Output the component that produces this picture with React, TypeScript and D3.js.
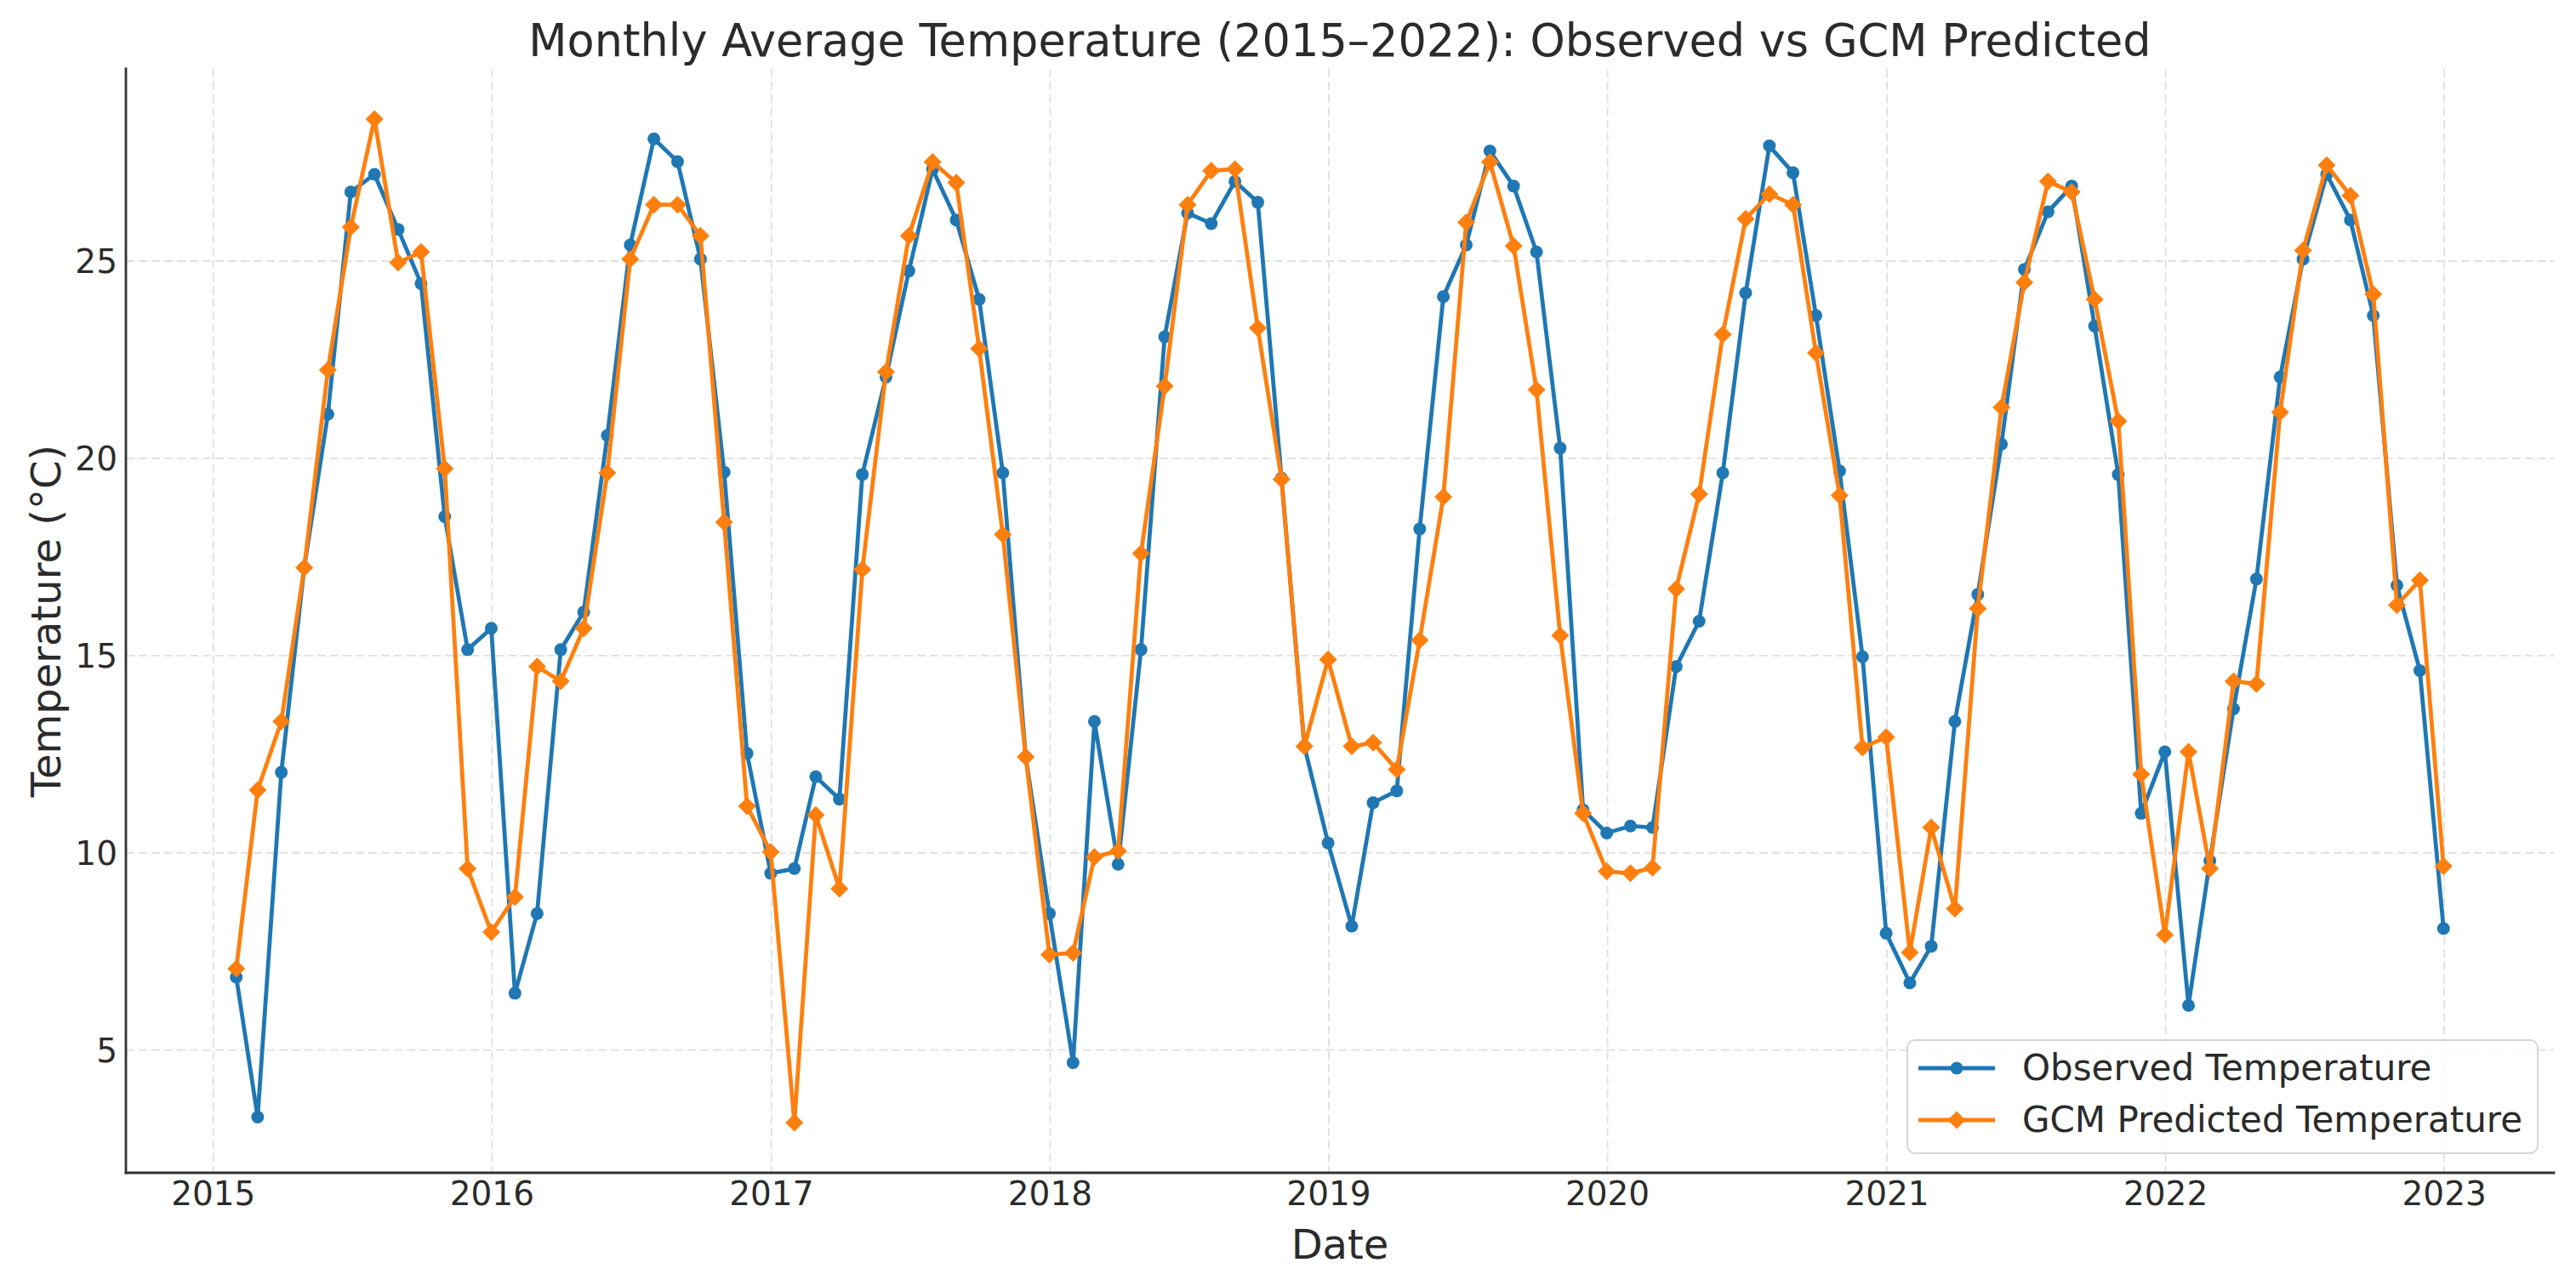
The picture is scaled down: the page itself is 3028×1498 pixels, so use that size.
import * as d3 from 'd3'

// monthly averages, Jan..Dec per row, 2015 through 2022
const observed = [
  6.85, 3.3, 12.04, 17.23, 21.12, 26.75, 27.2, 25.8, 24.43, 18.52, 15.15, 15.69,
  6.44, 8.46, 15.15, 16.1, 20.58, 25.41, 28.1, 27.52, 25.05, 19.65, 12.52, 9.48,
  9.6, 11.93, 11.36, 19.59, 22.06, 24.75, 27.33, 26.04, 24.03, 19.63, 12.43, 8.46,
  4.68, 13.33, 9.71, 15.15, 23.08, 26.22, 25.95, 27.02, 26.49, 19.5, 12.7, 10.25,
  8.14, 11.27, 11.57, 18.21, 24.1, 25.41, 27.79, 26.9, 25.23, 20.26, 11.09, 10.5,
  10.68, 10.64, 14.72, 15.87, 19.63, 24.19, 27.92, 27.24, 23.62, 19.68, 14.97, 7.96,
  6.7, 7.63, 13.33, 16.55, 20.36, 24.79, 26.25, 26.9, 23.35, 19.59, 11.0, 12.56,
  6.13, 9.8, 13.65, 16.94, 22.06, 25.05, 27.2, 26.04, 23.62, 16.78, 14.62, 8.08,
]

const predicted = [
  7.06, 11.59, 13.33, 17.23, 22.24, 25.86, 28.6, 24.96, 25.23, 19.74, 9.6, 7.99,
  8.88, 14.72, 14.35, 15.69, 19.63, 25.05, 26.43, 26.43, 25.64, 18.38, 11.18, 10.02,
  3.16, 10.96, 9.09, 17.18, 22.19, 25.64, 27.51, 26.99, 22.78, 18.07, 12.43, 7.42,
  7.46, 9.89, 10.05, 17.59, 21.83, 26.43, 27.29, 27.33, 23.3, 19.47, 12.7, 14.9,
  12.7, 12.79, 12.11, 15.39, 19.02, 25.98, 27.51, 25.38, 21.74, 15.51, 11.0, 9.53,
  9.48, 9.62, 16.69, 19.09, 23.14, 26.07, 26.7, 26.43, 22.67, 19.06, 12.67, 12.93,
  7.47, 10.64, 8.58, 16.19, 21.29, 24.46, 27.02, 26.75, 24.03, 20.94, 11.99, 7.92,
  12.56, 9.6, 14.35, 14.28, 21.17, 25.27, 27.43, 26.66, 24.16, 16.28, 16.91, 9.66,
]

const startYear = 2015
const yTicks = [5, 10, 15, 20, 25]
const xTickYears = [2015, 2016, 2017, 2018, 2019, 2020, 2021, 2022, 2023]

const W = 3028
const H = 1498
const left = 148
const right = 3002
const top = 81
const bottom = 1379

const FONT = '"DejaVu Sans", sans-serif'
const TEXT = '#2b2b2b'
const BLUE = '#1f77b4'
const ORANGE = '#ff7f0e'

// month-end dates (pandas 'M' frequency)
const dates = observed.map((_, i) => new Date(startYear, i + 1, 0))

type Pt = { date: Date; value: number }
const obsData: Pt[] = observed.map((v, i) => ({ date: dates[i], value: v }))
const predData: Pt[] = predicted.map((v, i) => ({ date: dates[i], value: v }))

// matplotlib-style 5% margins
const t0 = +dates[0]
const t1 = +dates[dates.length - 1]
const tPad = (t1 - t0) * 0.05
const allVals = [...observed, ...predicted]
const vMin = d3.min(allVals)!
const vMax = d3.max(allVals)!
const vPad = (vMax - vMin) * 0.05

const x = d3.scaleTime().domain([new Date(t0 - tPad), new Date(t1 + tPad)]).range([left, right])
const y = d3.scaleLinear().domain([vMin - vPad, vMax + vPad]).range([bottom, top])

const line = d3
  .line<Pt>()
  .x((d) => x(d.date))
  .y((d) => y(d.value))

const diamond = (cx: number, cy: number, r: number) =>
  `M${cx},${cy - r}L${cx + r},${cy}L${cx},${cy + r}L${cx - r},${cy}Z`

export default function App() {
  const legendX = 2242
  const legendY = 1223
  const rows = [
    { label: 'Observed Temperature', color: BLUE, kind: 'circle' },
    { label: 'GCM Predicted Temperature', color: ORANGE, kind: 'diamond' },
  ]

  return (
    <svg
      width={W}
      height={H}
      viewBox={`0 0 ${W} ${H}`}
      style={{ position: 'absolute', left: 0, top: 0, background: '#fff' }}
      fontFamily={FONT}
    >
      <rect width={W} height={H} fill="#fff" />

      {/* grid */}
      <g stroke="#e0e0e0" strokeWidth={1.8} strokeDasharray="10 5">
        {xTickYears.map((yr) => (
          <line key={yr} x1={x(new Date(yr, 0, 1))} x2={x(new Date(yr, 0, 1))} y1={top} y2={bottom} />
        ))}
        {yTicks.map((t) => (
          <line key={t} x1={left} x2={right} y1={y(t)} y2={y(t)} />
        ))}
      </g>

      {/* series */}
      <path d={line(obsData)!} fill="none" stroke={BLUE} strokeWidth={4.8} strokeLinejoin="round" />
      {obsData.map((d, i) => (
        <circle key={i} cx={x(d.date)} cy={y(d.value)} r={7.5} fill={BLUE} />
      ))}
      <path d={line(predData)!} fill="none" stroke={ORANGE} strokeWidth={4.8} strokeLinejoin="round" />
      {predData.map((d, i) => (
        <path key={i} d={diamond(x(d.date), y(d.value), 10.5)} fill={ORANGE} />
      ))}

      {/* spines */}
      <g stroke="#333" strokeWidth={2.8} strokeLinecap="square">
        <line x1={left} x2={left} y1={top} y2={bottom} />
        <line x1={left} x2={right} y1={bottom} y2={bottom} />
      </g>

      {/* tick labels */}
      <g fontSize={39} fill={TEXT}>
        {xTickYears.map((yr) => (
          <text key={yr} x={x(new Date(yr, 0, 1))} y={1417} textAnchor="middle">
            {yr}
          </text>
        ))}
        {yTicks.map((t) => (
          <text key={t} x={138} y={y(t) + 14} textAnchor="end">
            {t}
          </text>
        ))}
      </g>

      {/* axis labels and title */}
      <text x={(left + right) / 2} y={1480} textAnchor="middle" fontSize={48} fill={TEXT}>
        Date
      </text>
      <text
        transform={`translate(71,${(top + bottom) / 2}) rotate(-90)`}
        textAnchor="middle"
        fontSize={48}
        fill={TEXT}
      >
        Temperature (°C)
      </text>
      <text x={(left + right) / 2} y={66} textAnchor="middle" fontSize={52.5} fill={TEXT}>
        Monthly Average Temperature (2015–2022): Observed vs GCM Predicted
      </text>

      {/* legend */}
      <rect
        x={legendX}
        y={legendY}
        width={741}
        height={133}
        rx={9}
        fill="#fff"
        fillOpacity={0.85}
        stroke="#d6d6d6"
        strokeWidth={2}
      />
      {rows.map((r, i) => {
        const cy = 1256 + i * 61
        return (
          <g key={r.label}>
            <line x1={2255} x2={2345} y1={cy} y2={cy} stroke={r.color} strokeWidth={4.8} />
            {r.kind === 'circle' ? (
              <circle cx={2300} cy={cy} r={7.5} fill={r.color} />
            ) : (
              <path d={diamond(2300, cy, 10.5)} fill={r.color} />
            )}
            <text x={2377} y={cy + 14} fontSize={42} fill={TEXT}>
              {r.label}
            </text>
          </g>
        )
      })}
    </svg>
  )
}
